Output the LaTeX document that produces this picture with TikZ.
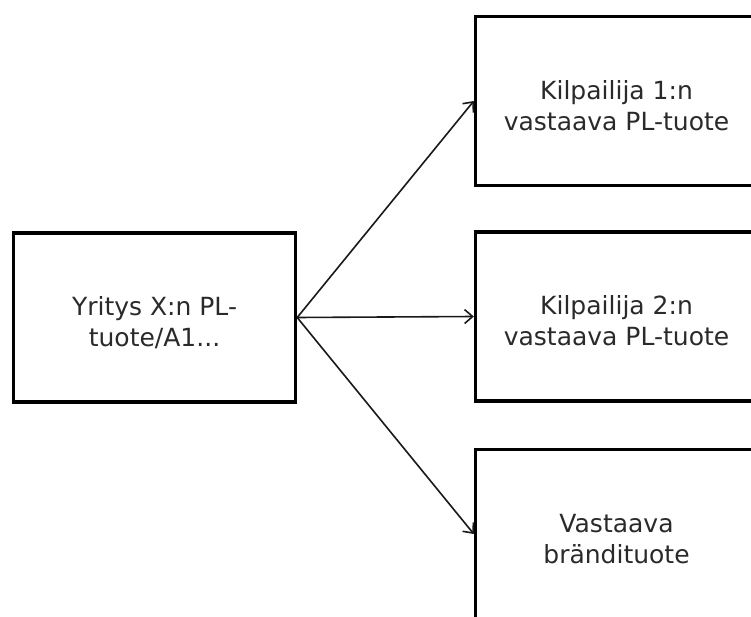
\documentclass[tikz,border=0pt]{standalone}
\usepackage{fontspec}
\setmainfont{DejaVu Sans}
\usetikzlibrary{arrows.meta}
\definecolor{ink}{HTML}{2A2A2A}
% two centred lines of box text, with extra room above so they sit a little low
\newcommand{\boxlines}[2]{\raisebox{0pt}[\dimexpr\height+15pt\relax][\depth]{\begin{tabular}{@{}c@{}}#1\\#2\end{tabular}}}
\tikzset{
  box/.style={draw=black, line width=3.4pt, fill=white, rectangle,
    minimum width=282pt, minimum height=169pt, inner sep=0pt,
    text=ink, font=\fontsize{25pt}{31pt}\selectfont},
  link/.style={draw=black!90, line width=1.6pt,
    -{Straight Barb[length=8pt,width=14pt,line width=1.6pt]}}
}
\begin{document}
\begin{tikzpicture}[x=1pt, y=-1pt]
  \useasboundingbox (0,0) rectangle (751,617);
  \clip (0,0) rectangle (751,617);
  \fill[white] (0,0) rectangle (751,617);
  % source product
  \node[box] (src) at (154.5,317.5) {\boxlines{Yritys X:n PL-}{tuote/A1...}};
  % comparison products
  \node[box] (k1) at (616.5,101) {\boxlines{Kilpailija 1:n}{vastaava PL-tuote}};
  \node[box] (k2) at (616.5,316.5) {\boxlines{Kilpailija 2:n}{vastaava PL-tuote}};
  \node[box] (br) at (616.5,534) {\boxlines{Vastaava}{brändituote}};
  % connectors
  \draw[link] (src.east) -- (k1.west);
  \draw[link] (src.east) -- (k2.west);
  \draw[link] (src.east) -- (br.west);
\end{tikzpicture}
\end{document}
